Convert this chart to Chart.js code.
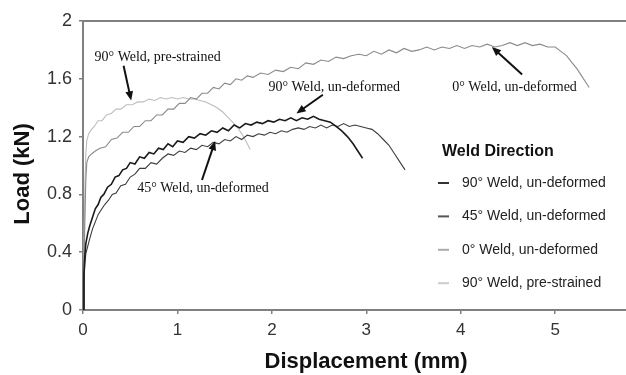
<!DOCTYPE html>
<html>
<head>
<meta charset="utf-8">
<script src="https://cdn.jsdelivr.net/npm/chart.js@4/dist/chart.umd.min.js"></script>
<style>
  html, body { margin: 0; padding: 0; background: #fff; }
  #wrap { width: 626px; height: 375px; position: relative; }
</style>
</head>
<body>
<div id="wrap"><canvas id="chart"></canvas></div>
<script>
// series: displacement (mm) and load (kN)
const disp90u = [0, 0.01, 0.02, 0.03, 0.05, 0.07, 0.10, 0.13, 0.16, 0.19, 0.22, 0.26, 0.30, 0.34, 0.38, 0.42, 0.46, 0.50, 0.55, 0.60, 0.65, 0.70, 0.75, 0.80, 0.85, 0.90, 0.95, 1.00, 1.06, 1.12, 1.18, 1.24, 1.30, 1.36, 1.42, 1.48, 1.54, 1.60, 1.66, 1.72, 1.78, 1.84, 1.90, 1.96, 2.02, 2.08, 2.14, 2.20, 2.26, 2.32, 2.38, 2.44, 2.50, 2.56, 2.62, 2.68, 2.74, 2.80, 2.86, 2.91, 2.96];
const load90u = [0, 0.25, 0.38, 0.46, 0.53, 0.58, 0.64, 0.70, 0.73, 0.78, 0.80, 0.85, 0.87, 0.92, 0.93, 0.97, 0.98, 1.02, 1.01, 1.06, 1.05, 1.09, 1.08, 1.12, 1.11, 1.15, 1.13, 1.17, 1.16, 1.20, 1.19, 1.22, 1.21, 1.24, 1.23, 1.26, 1.24, 1.28, 1.26, 1.29, 1.28, 1.30, 1.29, 1.31, 1.30, 1.32, 1.31, 1.33, 1.31, 1.33, 1.32, 1.34, 1.32, 1.31, 1.30, 1.27, 1.24, 1.20, 1.15, 1.10, 1.05];

const disp45u = [0, 0.01, 0.02, 0.03, 0.05, 0.07, 0.10, 0.13, 0.16, 0.19, 0.23, 0.27, 0.31, 0.35, 0.40, 0.45, 0.50, 0.55, 0.60, 0.66, 0.72, 0.78, 0.84, 0.90, 0.96, 1.02, 1.08, 1.14, 1.20, 1.26, 1.32, 1.38, 1.44, 1.50, 1.56, 1.62, 1.68, 1.74, 1.80, 1.86, 1.92, 1.98, 2.04, 2.10, 2.16, 2.22, 2.28, 2.34, 2.40, 2.46, 2.52, 2.58, 2.64, 2.70, 2.76, 2.82, 2.88, 2.94, 3.00, 3.06, 3.12, 3.18, 3.24, 3.30, 3.36, 3.41];
const load45u = [0, 0.20, 0.32, 0.39, 0.44, 0.49, 0.56, 0.61, 0.66, 0.69, 0.73, 0.76, 0.80, 0.81, 0.86, 0.87, 0.92, 0.94, 0.98, 0.98, 1.02, 1.01, 1.05, 1.08, 1.07, 1.10, 1.09, 1.12, 1.11, 1.14, 1.13, 1.16, 1.15, 1.18, 1.17, 1.20, 1.18, 1.21, 1.20, 1.22, 1.21, 1.23, 1.22, 1.24, 1.23, 1.25, 1.26, 1.25, 1.27, 1.26, 1.28, 1.26, 1.28, 1.27, 1.29, 1.27, 1.28, 1.27, 1.26, 1.25, 1.22, 1.18, 1.14, 1.08, 1.02, 0.97];

const disp0u = [0, 0.01, 0.02, 0.03, 0.04, 0.06, 0.09, 0.13, 0.18, 0.24, 0.30, 0.36, 0.42, 0.48, 0.54, 0.60, 0.66, 0.72, 0.78, 0.84, 0.90, 0.96, 1.02, 1.08, 1.14, 1.20, 1.26, 1.32, 1.38, 1.44, 1.50, 1.56, 1.62, 1.68, 1.74, 1.80, 1.88, 1.96, 2.04, 2.12, 2.20, 2.28, 2.36, 2.44, 2.52, 2.60, 2.68, 2.76, 2.84, 2.92, 3.00, 3.08, 3.16, 3.24, 3.32, 3.40, 3.48, 3.56, 3.64, 3.72, 3.80, 3.88, 3.96, 4.04, 4.12, 4.20, 4.28, 4.36, 4.44, 4.52, 4.60, 4.68, 4.76, 4.84, 4.92, 5.00, 5.06, 5.12, 5.18, 5.23, 5.28, 5.32, 5.36];
const load0u = [0, 0.30, 0.62, 0.90, 1.02, 1.06, 1.08, 1.10, 1.12, 1.13, 1.18, 1.19, 1.23, 1.23, 1.27, 1.27, 1.31, 1.31, 1.35, 1.35, 1.39, 1.39, 1.43, 1.43, 1.47, 1.46, 1.50, 1.50, 1.54, 1.53, 1.57, 1.56, 1.60, 1.59, 1.62, 1.61, 1.64, 1.63, 1.66, 1.65, 1.68, 1.67, 1.71, 1.70, 1.73, 1.72, 1.75, 1.74, 1.76, 1.77, 1.76, 1.79, 1.77, 1.80, 1.78, 1.81, 1.79, 1.80, 1.82, 1.80, 1.82, 1.81, 1.83, 1.81, 1.83, 1.82, 1.84, 1.82, 1.83, 1.85, 1.83, 1.85, 1.83, 1.84, 1.82, 1.82, 1.79, 1.76, 1.71, 1.67, 1.62, 1.58, 1.54];

const disp90p = [0, 0.01, 0.02, 0.03, 0.04, 0.06, 0.09, 0.12, 0.16, 0.20, 0.25, 0.30, 0.35, 0.40, 0.46, 0.52, 0.58, 0.64, 0.70, 0.76, 0.82, 0.88, 0.94, 1.00, 1.06, 1.12, 1.18, 1.24, 1.30, 1.36, 1.42, 1.48, 1.54, 1.60, 1.65, 1.70, 1.74, 1.77];
const load90p = [0, 0.40, 0.85, 1.08, 1.17, 1.22, 1.25, 1.27, 1.31, 1.31, 1.35, 1.36, 1.39, 1.39, 1.42, 1.42, 1.44, 1.44, 1.46, 1.45, 1.47, 1.46, 1.47, 1.46, 1.47, 1.46, 1.46, 1.45, 1.44, 1.42, 1.40, 1.37, 1.33, 1.29, 1.25, 1.20, 1.15, 1.11];

const seriesNames = ['90° Weld, un-deformed', '45° Weld, un-deformed', '0° Weld, un-deformed', '90° Weld, pre-strained'];
const seriesColors = ['#1a1a1a', '#3c3c3c', '#8a8a8a', '#bdbdbd'];
const legendColors = ['#333333', '#555555', '#aaaaaa', '#cccccc'];

const xTicks = ['0', '1', '2', '3', '4', '5'];
const yTicks = ['0', '0.4', '0.8', '1.2', '1.6', '2'];

// callout labels: text, label position, arrow start, arrow end (data units)
const notes = [
    { text: '90° Weld, pre-strained', at: [0.79, 1.75], from: [0.43, 1.69], to: [0.51, 1.45] },
    { text: '90° Weld, un-deformed', at: [2.66, 1.54], from: [2.54, 1.49], to: [2.26, 1.36] },
    { text: '0° Weld, un-deformed', at: [4.57, 1.54], from: [4.65, 1.63], to: [4.33, 1.82] },
    { text: '45° Weld, un-deformed', at: [1.27, 0.84], from: [1.26, 0.90], to: [1.40, 1.17] }
];

function pts(xs, ys) {
    return xs.map((x, i) => ({ x: x, y: ys[i] }));
}

const notesPlugin = {
    id: 'notes',
    afterDatasetsDraw(chart) {
        const ctx = chart.ctx;
        const xs = chart.scales.x, ys = chart.scales.y;
        ctx.save();
        ctx.font = '14px "Liberation Serif", serif';
        ctx.fillStyle = '#111';
        ctx.textAlign = 'center';
        ctx.textBaseline = 'middle';
        notes.forEach(function(n) {
            ctx.fillText(n.text, xs.getPixelForValue(n.at[0]), ys.getPixelForValue(n.at[1]));
            const x1 = xs.getPixelForValue(n.from[0]), y1 = ys.getPixelForValue(n.from[1]);
            const x2 = xs.getPixelForValue(n.to[0]), y2 = ys.getPixelForValue(n.to[1]);
            const a = Math.atan2(y2 - y1, x2 - x1);
            ctx.strokeStyle = '#111';
            ctx.lineWidth = 2;
            ctx.beginPath();
            ctx.moveTo(x1, y1);
            ctx.lineTo(x2 - 6 * Math.cos(a), y2 - 6 * Math.sin(a));
            ctx.stroke();
            ctx.beginPath();
            ctx.moveTo(x2, y2);
            ctx.lineTo(x2 - 10 * Math.cos(a - 0.4), y2 - 10 * Math.sin(a - 0.4));
            ctx.lineTo(x2 - 10 * Math.cos(a + 0.4), y2 - 10 * Math.sin(a + 0.4));
            ctx.closePath();
            ctx.fill();
        });

        // legend box inside the plot
        ctx.textAlign = 'left';
        ctx.font = 'bold 16px "Liberation Sans", Arial, sans-serif';
        ctx.fillStyle = '#111';
        ctx.fillText('Weld Direction', 442, 152);
        ctx.font = '14px "Liberation Sans", Arial, sans-serif';
        chart.data.datasets.forEach(function(ds, i) {
            const y = 183 + i * 33.4;
            ctx.strokeStyle = legendColors[i];
            ctx.lineWidth = 2;
            ctx.beginPath();
            ctx.moveTo(438, y);
            ctx.lineTo(449, y);
            ctx.stroke();
            ctx.fillStyle = '#222';
            ctx.fillText(ds.label, 462, y);
        });

        // top frame line
        ctx.strokeStyle = '#808080';
        ctx.lineWidth = 2;
        ctx.beginPath();
        ctx.moveTo(chart.chartArea.left, chart.chartArea.top);
        ctx.lineTo(chart.chartArea.right, chart.chartArea.top);
        ctx.stroke();

        // axis titles
        ctx.fillStyle = '#111';
        ctx.font = 'bold 22px "Liberation Sans", Arial, sans-serif';
        ctx.textAlign = 'center';
        ctx.fillText('Displacement (mm)', 366, 362);
        ctx.translate(23, 174);
        ctx.rotate(-Math.PI / 2);
        ctx.fillText('Load (kN)', 0, 0);
        ctx.restore();
    }
};

const datasets = [
    { label: seriesNames[0], data: pts(disp90u, load90u), borderColor: seriesColors[0], borderWidth: 1.6 },
    { label: seriesNames[1], data: pts(disp45u, load45u), borderColor: seriesColors[1], borderWidth: 1.1 },
    { label: seriesNames[2], data: pts(disp0u, load0u), borderColor: seriesColors[2], borderWidth: 1.1 },
    { label: seriesNames[3], data: pts(disp90p, load90p), borderColor: seriesColors[3], borderWidth: 1.1 }
].map(d => Object.assign(d, { pointRadius: 0, tension: 0, fill: false }));

new Chart(document.getElementById('chart'), {
    type: 'line',
    data: { datasets: datasets },
    options: {
        responsive: true,
        maintainAspectRatio: false,
        animation: false,
        layout: { padding: { top: 21, right: 0, left: 0, bottom: 0 } },
        plugins: { legend: { display: false }, tooltip: { enabled: false } },
        scales: {
            x: {
                type: 'linear', min: 0, max: 5.75,
                afterFit: function(s) { s.height = 65; },
                border: { color: '#808080', width: 2 },
                grid: { drawOnChartArea: false, color: '#808080', tickLength: 4, lineWidth: 1.5 },
                ticks: {
                    stepSize: 1, includeBounds: false, padding: 6, color: '#333',
                    font: { family: '"Liberation Sans", Arial, sans-serif', size: 17 },
                    callback: (v) => xTicks[Math.round(v)]
                }
            },
            y: {
                min: 0, max: 2,
                afterFit: function(s) { s.width = 83; },
                border: { color: '#808080', width: 2 },
                grid: { drawOnChartArea: false, color: '#808080', tickLength: 4, lineWidth: 1.5 },
                ticks: {
                    stepSize: 0.4, padding: 7, color: '#333',
                    font: { family: '"Liberation Sans", Arial, sans-serif', size: 18 },
                    callback: (v) => yTicks[Math.round(v / 0.4)]
                }
            }
        }
    },
    plugins: [notesPlugin]
});
</script>
</body>
</html>
